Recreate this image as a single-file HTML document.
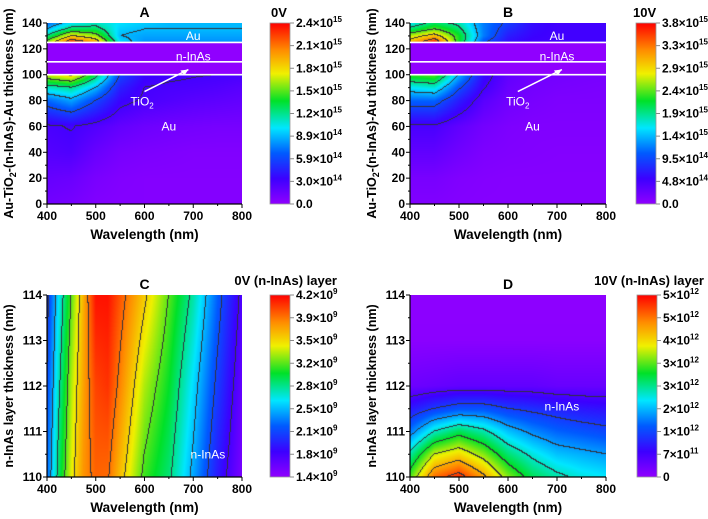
<!DOCTYPE html>
<html><head><meta charset="utf-8">
<style>
body{margin:0;background:#fff;width:708px;height:519px;overflow:hidden;position:relative;font-family:"Liberation Sans",Arial,sans-serif;}
canvas{position:absolute;}
svg{position:absolute;left:0;top:0;}
text{font-family:"Liberation Sans",Arial,sans-serif;}
</style></head>
<body>
<canvas id="cA"></canvas>
<canvas id="cB"></canvas>
<canvas id="cC"></canvas>
<canvas id="cD"></canvas>
<svg id="ov" width="708" height="519"></svg>
<script>
// ---- data ----
const xsAB = [400,450,500,550,600,650,700,750,800];
const ysAB = [0,20,40,60,80,90,100,125,130,135,140];
const zA = [
 [0.12,0.1,0.06,0.05,0.05,0.05,0.05,0.05,0.05],
 [0.17,0.15,0.09,0.06,0.05,0.05,0.05,0.05,0.05],
 [0.24,0.26,0.16,0.1,0.08,0.07,0.06,0.06,0.06],
 [0.28,0.31,0.25,0.18,0.14,0.12,0.11,0.1,0.1],
 [0.7,0.85,0.6,0.35,0.28,0.25,0.22,0.2,0.18],
 [1.1,1.2,0.9,0.45,0.3,0.28,0.27,0.25,0.22],
 [1.7,1.85,1.3,0.6,0.36,0.33,0.31,0.3,0.28],
 [1.6,2.3,2.0,1.0,0.8,0.8,0.8,0.8,0.8],
 [1.2,1.8,1.6,0.9,0.85,0.85,0.85,0.85,0.85],
 [0.9,1.3,1.3,0.95,0.9,0.9,0.9,0.9,0.9],
 [0.7,1.0,1.1,1.0,0.95,0.9,0.9,0.9,0.9]];
const zB = [
 [0.1,0.1,0.08,0.07,0.07,0.07,0.07,0.07,0.07],
 [0.15,0.15,0.1,0.08,0.07,0.07,0.07,0.07,0.07],
 [0.3,0.3,0.2,0.12,0.1,0.09,0.08,0.08,0.08],
 [0.45,0.45,0.3,0.18,0.12,0.1,0.1,0.1,0.1],
 [1.1,1.1,0.7,0.35,0.2,0.15,0.12,0.12,0.12],
 [1.6,1.7,1.0,0.5,0.25,0.18,0.15,0.14,0.13],
 [2.3,2.4,1.4,0.6,0.3,0.2,0.18,0.16,0.15],
 [3.0,3.7,2.2,1.0,0.6,0.5,0.5,0.5,0.5],
 [2.6,3.0,2.2,1.2,0.7,0.55,0.5,0.5,0.5],
 [2.0,2.4,2.0,1.2,0.8,0.58,0.5,0.5,0.5],
 [1.6,2.0,1.8,1.2,0.9,0.6,0.5,0.5,0.5]];
const xsC = [400,425,450,475,500,525,550,600,650,700,750,800];
const ysC = [110,112,114];
const zC = [
 [2.2,2.9,3.4,3.75,3.9,3.88,3.6,3.1,2.85,2.4,1.9,1.5],
 [2.1,2.75,3.3,3.7,4.0,4.05,3.8,3.3,3.0,2.55,2.05,1.6],
 [2.0,2.6,3.15,3.65,4.15,4.15,3.95,3.55,3.15,2.75,2.2,1.7]];
const xsD = [400,450,500,550,600,650,700,750,800];
const ysD = [110,110.5,111,111.5,112,113,114];
const zD = [
 [3.2,4.6,5.0,4.3,3.4,2.8,2.5,2.3,2.2],
 [2.5,3.6,3.9,3.4,2.7,2.3,2.0,1.9,1.8],
 [1.6,2.4,2.8,2.5,2.0,1.7,1.5,1.4,1.3],
 [0.9,1.2,1.4,1.4,1.2,1.1,1.0,0.9,0.85],
 [0.3,0.35,0.4,0.4,0.4,0.4,0.35,0.35,0.35],
 [0.05,0.05,0.05,0.05,0.05,0.05,0.05,0.05,0.05],
 [0.02,0.02,0.02,0.02,0.02,0.02,0.02,0.02,0.02]];
const xTicks = [400,500,600,700,800];
const yTicksAB = [0,20,40,60,80,100,120,140];
const yTicksCD = [110,111,112,113,114];
const cbA = [["0.0",""],["3.0","14"],["5.9","14"],["8.9","14"],["1.2","15"],["1.5","15"],["1.8","15"],["2.1","15"],["2.4","15"]];
const cbB = [["0.0",""],["4.8","14"],["9.5","14"],["1.4","15"],["1.9","15"],["2.4","15"],["2.9","15"],["3.3","15"],["3.8","15"]];
const cbC = [["1.4","9"],["1.8","9"],["2.1","9"],["2.5","9"],["2.8","9"],["3.2","9"],["3.5","9"],["3.9","9"],["4.2","9"]];
const cbD = [["0",""],["7","11"],["1","12"],["2","12"],["3","12"],["3","12"],["4","12"],["5","12"],["5","12"]];

const stops=[[0,[144,0,255]],[0.14,[60,0,255]],[0.28,[0,90,255]],[0.42,[0,230,255]],[0.57,[0,225,40]],[0.72,[240,240,0]],[0.85,[255,140,0]],[1,[255,0,0]]];
function cmap(t){t=Math.max(0,Math.min(1,t));for(let i=1;i<stops.length;i++){if(t<=stops[i][0]){const a=stops[i-1],b=stops[i];const f=(t-a[0])/(b[0]-a[0]);return a[1].map((c,k)=>Math.round(c+(b[1][k]-c)*f));}}return stops[stops.length-1][1];}
function seg(arr,v){for(let i=0;i<arr.length-1;i++){if(v<=arr[i+1])return [i,(v-arr[i])/(arr[i+1]-arr[i])];}return [arr.length-2,1];}
function interp(xs,ys,z,x,y){const [i,fx]=seg(xs,x),[j,fy]=seg(ys,y);const a=z[j][i]*(1-fx)+z[j][i+1]*fx,b=z[j+1][i]*(1-fx)+z[j+1][i+1]*fx;return a*(1-fy)+b*fy;}

const NS="http://www.w3.org/2000/svg";
const ov=document.getElementById('ov');
function el(tag,attrs,txt){const e=document.createElementNS(NS,tag);for(const k in attrs)e.setAttribute(k,attrs[k]);if(txt!=null)e.textContent=txt;ov.appendChild(e);return e;}

function panel(o){
  const W=o.R-o.L,H=o.B-o.T;
  const xs=v=>o.L+(v-400)/400*W, ys=v=>o.B-(v-o.y0)/(o.y1-o.y0)*H;
  const cv=document.getElementById(o.id);cv.width=W;cv.height=H;cv.style.left=o.L+'px';cv.style.top=o.T+'px';
  const ctx=cv.getContext('2d');const img=ctx.createImageData(W,H);
  const val=[],lev=[],msk=[];
  for(let py=0;py<H;py++){for(let px=0;px<W;px++){
    const x=400+(px+0.5)/W*400, y=o.y1-(py+0.5)/H*(o.y1-o.y0);
    let v=interp(o.gx,o.gy,o.z,x,y);
    const m=o.mask&&y>100&&y<125;
    if(m)v=0;
    msk.push(m);val.push(v);lev.push(Math.floor((v-o.vmin)/o.step+1e-6));}}
  for(let py=0;py<H;py++)for(let px=0;px<W;px++){
    const k=py*W+px;let c=cmap((val[k]-o.vmin)/(o.vmax-o.vmin));
    if(!msk[k]&&((px<W-1&&lev[k]!==lev[k+1])||(py<H-1&&!msk[k+W]&&lev[k]!==lev[k+W])))c=[50,50,60];
    img.data[k*4]=c[0];img.data[k*4+1]=c[1];img.data[k*4+2]=c[2];img.data[k*4+3]=255;}
  ctx.putImageData(img,0,0);
  const ax=el('line',{x1:o.L,y1:o.B,x2:o.R,y2:o.B,stroke:'#000','stroke-width':1.2});
  
  const ay=el('line',{x1:o.L,y1:o.T,x2:o.L,y2:o.B,stroke:'#000','stroke-width':1.2});
  
  for(let v=400;v<=800;v+=50){el('line',{x1:xs(v),y1:o.B,x2:xs(v),y2:o.B+(v%100?2:4),stroke:'#000'});}
  xTicks.forEach(v=>{const t=el('text',{x:xs(v),y:o.B+16,'text-anchor':'middle','font-size':12,'font-weight':'bold'},v);
    });
  o.yt.forEach((v,i)=>{el('line',{x1:o.L-4,y1:ys(v),x2:o.L,y2:ys(v),stroke:'#000'});
    if(i<o.yt.length-1){const m=(v+o.yt[i+1])/2;el('line',{x1:o.L-2,y1:ys(m),x2:o.L,y2:ys(m),stroke:'#000'});}
    const t=el('text',{x:o.L-5,y:ys(v)+4,'text-anchor':'end','font-size':12,'font-weight':'bold'},v);
    });
  const xt=el('text',{x:(o.L+o.R)/2,y:o.B+35,'text-anchor':'middle','font-size':13.5,'font-weight':'bold'},'Wavelength (nm)');
  
  const yt=el('text',{x:0,y:0,'text-anchor':'middle','font-size':12.5,'font-weight':'bold',transform:`translate(${o.L-34},${(o.T+o.B)/2}) rotate(-90)`});
  
  if(o.mask){yt.innerHTML='Au-TiO<tspan font-size="9" dy="3">2</tspan><tspan dy="-3">-(n-InAs)-Au thickness (nm)</tspan>';}else yt.textContent='n-InAs layer thickness (nm)';
  const ti=el('text',{x:(o.L+o.R)/2,y:o.T-6,'text-anchor':'middle','font-size':14,'font-weight':'bold'},o.title);
  
  const g=document.createElementNS(NS,'linearGradient');g.setAttribute('id','g'+o.p);g.setAttribute('x1',0);g.setAttribute('y1',1);g.setAttribute('x2',0);g.setAttribute('y2',0);
  stops.forEach(s=>{const st=document.createElementNS(NS,'stop');st.setAttribute('offset',s[0]);st.setAttribute('stop-color',`rgb(${s[1].join(',')})`);g.appendChild(st);});
  ov.appendChild(g);
  const cb=el('rect',{x:o.cbx,y:o.T,width:20,height:H,fill:`url(#g${o.p})`,stroke:'#999','stroke-width':0.8});
  
  o.cb.forEach((lab,i)=>{const y=o.B-i*H/(o.cb.length-1);
    el('line',{x1:o.cbx+20,y1:y,x2:o.cbx+24,y2:y,stroke:'#888'});
    const t=el('text',{x:o.cbx+26,y:y+4,'font-size':12,'font-weight':'bold'});
    
    t.innerHTML=lab[1]?`${lab[0]}×10<tspan font-size="8" dy="-5">${lab[1]}</tspan>`:lab[0];});
  const ct=el('text',{x:o.cbt[0],y:o.cbt[1],'text-anchor':o.cbt[2],'font-size':13,'font-weight':'bold'},o.cblab);
  
  return {xs,ys};
}
function wtext(x,y,s,name){const t=el('text',{x,y,'text-anchor':'middle','font-size':12,fill:'#fff'});t.innerHTML=s;
  }
function layers(o,m){[100,110,125].forEach(v=>{const l=el('line',{x1:o.L,y1:m.ys(v),x2:o.R,y2:m.ys(v),stroke:'#fff','stroke-width':1.6});
  });}

const oA={id:'cA',p:'a',L:47,R:242,T:23,B:204,y0:0,y1:140,gx:xsAB,gy:ysAB,z:zA,vmin:0,vmax:2.4,step:0.3,mask:true,yt:yTicksAB,title:'A',cb:cbA,cbx:270,cblab:'0V',cbt:[271,17,'start']};
const oB={id:'cB',p:'b',L:410,R:606,T:23,B:204,y0:0,y1:140,gx:xsAB,gy:ysAB,z:zB,vmin:0,vmax:3.8,step:0.475,mask:true,yt:yTicksAB,title:'B',cb:cbB,cbx:636,cblab:'10V',cbt:[633,17,'start']};
const oC={id:'cC',p:'c',L:47,R:242,T:295,B:477,y0:110,y1:114,gx:xsC,gy:ysC,z:zC,vmin:1.4,vmax:4.2,step:0.35,mask:false,yt:yTicksCD,title:'C',cb:cbC,cbx:270,cblab:'0V (n-InAs) layer',cbt:[337,285,'end']};
const oD={id:'cD',p:'d',L:410,R:606,T:295,B:477,y0:110,y1:114,gx:xsD,gy:ysD,z:zD,vmin:0,vmax:5.2,step:0.6,mask:false,yt:yTicksCD,title:'D',cb:cbD,cbx:637,cblab:'10V (n-InAs) layer',cbt:[704,285,'end']};
const mA=panel(oA),mB=panel(oB),mC=panel(oC),mD=panel(oD);
layers(oA,mA);layers(oB,mB);
[[oA,mA],[oB,mB]].forEach(([o,m],i)=>{
  wtext(m.xs(700),m.ys(130)+4,'Au','label-au-top');
  wtext(m.xs(700),m.ys(114)+4,'n-InAs','label-n-inas');
  wtext(m.xs(650),m.ys(60)+4,'Au','label-au-bottom');
  wtext(m.xs(i?620:595),m.ys(80)+5,'TiO<tspan font-size="8" dy="3">2</tspan>','label-tio2');
  const ar=el('line',{x1:m.xs(i?620:600),y1:m.ys(87),x2:m.xs(i?710:690),y2:m.ys(104),stroke:'#fff','stroke-width':1.5});
  
  const hx=m.xs(i?710:690),hy=m.ys(104);
  const hd=el('polygon',{points:`${hx},${hy} ${hx-8},${hy+1} ${hx-4},${hy+6}`,fill:'#fff'});
  
});
wtext(mC.xs(730),mC.ys(110.5)+4,'n-InAs','label-n-inas-c');
wtext(mD.xs(710),mD.ys(111.55)+4,'n-InAs','label-n-inas-d');
</script>
</body></html>
